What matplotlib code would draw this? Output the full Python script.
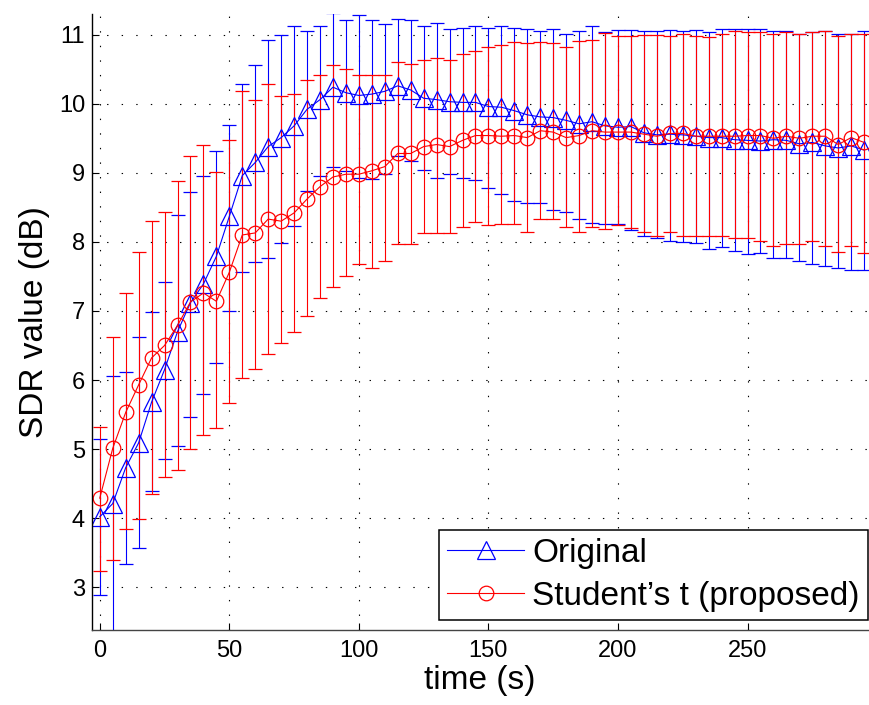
import matplotlib
matplotlib.use("Agg")
import matplotlib.pyplot as plt
import numpy as np

plt.rcParams['font.family'] = ['Liberation Sans', 'DejaVu Sans']
plt.rcParams['lines.scale_dashes'] = False

# time axis (s)
t = [0, 5, 10, 15, 20, 25, 30, 35, 40, 45,
     50, 55, 60, 65, 70, 75, 80, 85, 90, 95,
     100, 105, 110, 115, 120, 125, 130, 135, 140, 145,
     150, 155, 160, 165, 170, 175, 180, 185, 190, 195,
     200, 205, 210, 215, 220, 225, 230, 235, 240, 245,
     250, 255, 260, 265, 270, 275, 280, 285, 290, 295]

# Original: mean, upper end, lower end of error bar
orig_mean = [4.02, 4.21, 4.73, 5.09, 5.68, 6.15, 6.70, 7.12, 7.39, 7.79,
             8.37, 8.96, 9.15, 9.38, 9.51, 9.68, 9.92, 10.06, 10.24, 10.16,
             10.12, 10.14, 10.18, 10.26, 10.20, 10.08, 10.06, 10.03, 10.02, 10.02,
             9.96, 9.95, 9.90, 9.84, 9.81, 9.80, 9.76, 9.71, 9.74, 9.68,
             9.66, 9.67, 9.58, 9.55, 9.56, 9.55, 9.53, 9.51, 9.51, 9.48,
             9.47, 9.46, 9.48, 9.47, 9.42, 9.44, 9.39, 9.36, 9.39, 9.33]
orig_hi = [5.15, 6.06, 6.11, 6.63, 6.98, 7.42, 8.39, 8.72, 8.96, 9.32,
           9.69, 10.29, 10.56, 10.92, 10.99, 11.12, 11.05, 11.12, 11.31, 11.21,
           11.28, 11.21, 11.15, 11.23, 11.21, 11.12, 11.17, 11.08, 11.10, 11.12,
           11.10, 11.12, 11.10, 11.09, 11.05, 11.09, 11.01, 11.06, 11.12, 11.04,
           11.07, 11.07, 11.05, 11.05, 11.07, 11.05, 11.07, 11.04, 11.09, 11.09,
           11.09, 11.09, 11.05, 11.05, 11.01, 11.04, 11.05, 11.01, 11.01, 11.05]
orig_lo = [2.89, 2.20, 3.34, 3.57, 4.39, 4.85, 5.04, 5.46, 5.80, 6.25,
           7.00, 7.57, 7.71, 7.76, 7.99, 8.23, 8.73, 8.96, 9.09, 9.02,
           8.92, 8.91, 8.98, 9.25, 9.17, 9.04, 8.93, 8.98, 8.93, 8.89,
           8.78, 8.70, 8.59, 8.57, 8.57, 8.46, 8.43, 8.33, 8.27, 8.26,
           8.26, 8.17, 8.09, 8.05, 8.02, 8.00, 7.99, 7.90, 7.93, 7.87,
           7.83, 7.84, 7.76, 7.76, 7.73, 7.68, 7.65, 7.62, 7.60, 7.60]

# Student's t (proposed)
st_mean = [4.29, 5.01, 5.53, 5.93, 6.32, 6.50, 6.79, 7.13, 7.26, 7.14,
           7.56, 8.10, 8.13, 8.33, 8.30, 8.42, 8.62, 8.80, 8.94, 8.98,
           8.98, 9.03, 9.09, 9.28, 9.28, 9.38, 9.41, 9.38, 9.47, 9.54,
           9.54, 9.53, 9.54, 9.51, 9.61, 9.59, 9.51, 9.54, 9.61, 9.59,
           9.59, 9.59, 9.56, 9.53, 9.57, 9.57, 9.53, 9.53, 9.53, 9.53,
           9.54, 9.54, 9.50, 9.53, 9.50, 9.53, 9.53, 9.41, 9.51, 9.44]
st_hi = [5.32, 6.63, 7.26, 7.86, 8.30, 8.43, 8.88, 9.25, 9.41, 9.01,
         9.47, 10.19, 10.06, 10.29, 10.11, 10.14, 10.34, 10.42, 10.56, 10.50,
         10.42, 10.42, 10.42, 10.61, 10.58, 10.64, 10.66, 10.64, 10.72, 10.76,
         10.82, 10.85, 10.90, 10.88, 10.90, 10.88, 10.82, 10.91, 10.92, 11.03,
         10.98, 10.98, 10.99, 10.99, 10.98, 11.01, 10.98, 10.97, 11.01, 11.05,
         11.04, 11.04, 11.01, 11.04, 11.01, 11.04, 11.05, 10.98, 11.01, 11.01]
st_lo = [3.24, 3.40, 3.84, 3.99, 4.35, 4.59, 4.70, 5.00, 5.20, 5.31,
         5.67, 6.03, 6.16, 6.37, 6.54, 6.69, 6.92, 7.19, 7.34, 7.50,
         7.68, 7.62, 7.73, 7.97, 7.97, 8.13, 8.13, 8.13, 8.21, 8.29,
         8.24, 8.26, 8.26, 8.15, 8.33, 8.33, 8.21, 8.15, 8.21, 8.18,
         8.24, 8.20, 8.14, 8.08, 8.15, 8.09, 8.09, 8.09, 8.08, 8.05,
         8.05, 8.02, 7.94, 7.97, 7.97, 8.02, 7.94, 7.86, 7.94, 7.84]

labels = ['Original', 'Student\u2019s t (proposed)']
xticks = [0, 50, 100, 150, 200, 250]
yticks = [3, 4, 5, 6, 7, 8, 9, 10, 11]


def err(mean, lo, hi):
    mean = np.asarray(mean)
    return [mean - np.asarray(lo), np.asarray(hi) - mean]


fig = plt.figure(figsize=(8.7, 7.05), dpi=100)
ax = fig.add_axes([92 / 870, 75 / 705, 776 / 870, 616 / 705])

eb1 = ax.errorbar(t, orig_mean, yerr=err(orig_mean, orig_lo, orig_hi),
                  fmt='-^', color='blue', mfc='none', mec='blue', ms=13,
                  mew=0.9, lw=0.8, elinewidth=0.8, capsize=4.7, capthick=0.8)
eb2 = ax.errorbar(t, st_mean, yerr=err(st_mean, st_lo, st_hi),
                  fmt='-o', color='red', mfc='none', mec='red', ms=10.5,
                  mew=0.9, lw=0.8, elinewidth=0.8, capsize=4.7, capthick=0.8)

ax.set_xlim(-3, 296.5)
ax.set_ylim(2.38, 11.3)
ax.set_xticks(xticks)
ax.set_yticks(yticks)

ax.grid(True, color='black', linestyle=(0, (1, 9.5)), linewidth=0.8)
ax.set_axisbelow(True)

for side in ['top', 'right']:
    ax.spines[side].set_visible(False)
ax.spines['left'].set_linewidth(1.0)
ax.spines['bottom'].set_linewidth(1.0)
ax.spines['bottom'].set_color('#444444')

ax.tick_params(direction='in', length=5, width=0.8, labelsize=17)
ax.tick_params(axis='x', pad=7)
ax.tick_params(axis='y', pad=5)

ax.set_xlabel('time (s)', fontsize=24, labelpad=2)
ax.set_ylabel('SDR value (dB)', fontsize=24, labelpad=6)

leg = ax.legend([eb1[0], eb2[0]], labels, loc='lower right',
                bbox_to_anchor=(1.0, 0.016), borderaxespad=0,
                fontsize=24, fancybox=False, framealpha=1, edgecolor='black',
                handlelength=2.3, handletextpad=0.25, borderpad=0.25,
                labelspacing=0.35)
leg.get_frame().set_linewidth(1.1)

fig.savefig('out.png', dpi=100)
